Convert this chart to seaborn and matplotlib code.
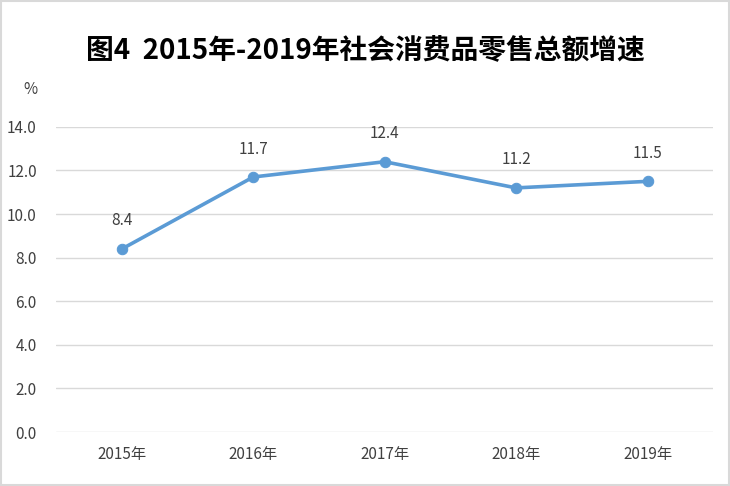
import matplotlib.pyplot as plt
import seaborn as sns
import pandas as pd
from matplotlib.patches import Rectangle

# data
years = ['2015年', '2016年', '2017年', '2018年', '2019年']
growth = [8.4, 11.7, 12.4, 11.2, 11.5]
y_ticks = [0, 2, 4, 6, 8, 10, 12, 14]

sns.set_style('white')
plt.rcParams['font.family'] = ['Noto Sans CJK SC', 'DejaVu Sans']

df = pd.DataFrame({'year': years, 'growth': growth})

fig = plt.figure(figsize=(7.3, 4.86), dpi=100)
ax = fig.add_axes([0.077, 0.111, 0.900, 0.628])

sns.lineplot(data=df, x='year', y='growth', ax=ax, color='#5B9BD5',
             linewidth=2.6, marker='o', markersize=7.5,
             markeredgecolor='#5B9BD5', sort=False)

# data labels
for i, v in enumerate(growth):
    ax.annotate(f'{v:.1f}', (i, v), xytext=(0, 14), textcoords='offset points',
                ha='center', va='bottom', fontsize=11, color='#404040')

ax.set_xlim(-0.5, len(years) - 0.5)
ax.set_ylim(0, 14)
ax.set_yticks(y_ticks)
ax.set_yticklabels([f'{t:.1f}' for t in y_ticks])
ax.yaxis.grid(True, color='#d9d9d9', linewidth=1)
ax.set_axisbelow(True)
ax.tick_params(axis='both', length=0, labelsize=11, labelcolor='#404040')
ax.tick_params(axis='x', pad=10)
ax.tick_params(axis='y', pad=14)
for s in ax.spines.values():
    s.set_visible(False)
ax.set_xlabel('')
ax.set_ylabel('')

fig.text(0.5, 0.895, '图4  2015年-2019年社会消费品零售总额增速',
         ha='center', va='center', fontsize=20, fontweight='bold', color='black')
fig.text(0.042, 0.815, '%', ha='center', va='center', fontsize=11, color='#404040')

# light border around the chart
fig.patches.append(Rectangle((0.002, 0.002), 0.996, 0.996, transform=fig.transFigure,
                             fill=False, edgecolor='#d9d9d9', linewidth=1.5))

fig.savefig('out.png', dpi=100)
